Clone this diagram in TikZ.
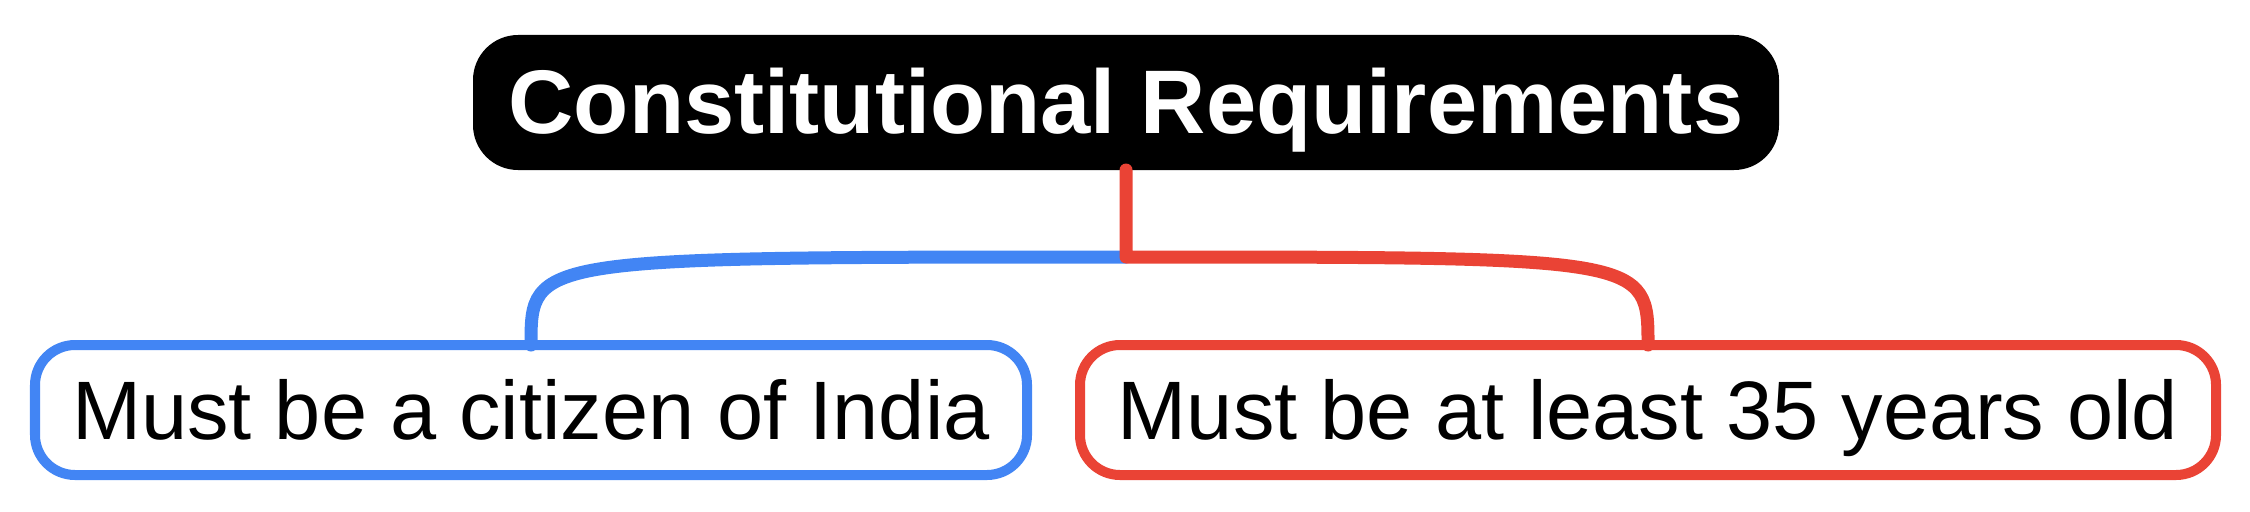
\documentclass[tikz,border=0pt]{standalone}
\usepackage{fontspec}
\setmainfont{Liberation Sans}
\usetikzlibrary{positioning,calc}
\definecolor{mapblue}{RGB}{66,133,244}
\definecolor{mapred}{RGB}{234,67,53}
\tikzset{
	topic/.style={rectangle, rounded corners=0.45cm, fill=black, text=white, minimum width=13.06cm, minimum height=1.35cm, outer sep=0pt, font=\fontsize{25.7pt}{30pt}\selectfont\bfseries, text height=18.4pt, text depth=1pt},
	leaf/.style={rectangle, rounded corners=0.4cm, draw, line width=0.1cm, fill=white, minimum height=1.3cm, outer sep=0pt, font=\fontsize{23.6pt}{28pt}\selectfont, text height=16.9pt, text depth=0pt},
	branch/.style={line width=0.13cm, line cap=round, line join=round}
}

\begin{document}
\begin{tikzpicture}

	\useasboundingbox (0,0) rectangle (22.5,-5.11);

	\node (root) [topic] at (11.26,-1.025) {Constitutional Requirements};
	\node (cit) [leaf, draw=mapblue, minimum width=9.92cm, below=1.75cm of root, xshift=-5.95cm] {Must be a citizen of India};
	\node (age) [leaf, draw=mapred, minimum width=11.36cm, right=0.53cm of cit] {Must be at least 35 years old};

	\coordinate[below=0.87cm of root] (fork);

	\draw[branch, mapblue] (fork) .. controls (fork -| cit.north) and (fork -| cit.north) .. (cit.north);
	\draw[branch, mapred] (root.south) -- (fork) .. controls (fork -| age.north) and (fork -| age.north) .. (age.north);

\end{tikzpicture}
\end{document}
